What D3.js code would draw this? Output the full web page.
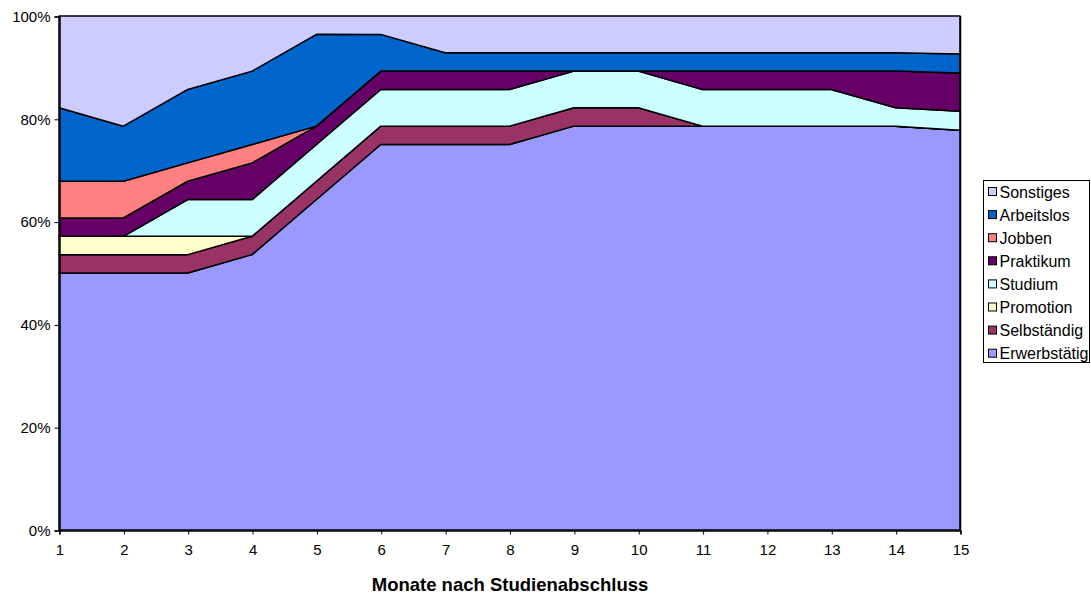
<!DOCTYPE html>
<html><head><meta charset="utf-8">
<script src="https://cdn.jsdelivr.net/npm/d3@7"></script>
<style>body{margin:0;background:#fff;} svg{display:block;} text{font-family:"Liberation Sans",Arial,sans-serif;}</style>
</head><body><svg id="c" width="1091" height="595"></svg>
<script>
const months = [1,2,3,4,5,6,7,8,9,10,11,12,13,14,15];
const seriesNames = ["Erwerbstätig","Selbständig","Promotion","Studium","Praktikum","Jobben","Arbeitslos","Sonstiges"];
const colors = ["#9999FF","#993366","#FFFFCC","#CCFFFF","#660066","#FF8080","#0066CC","#CCCCFF"];
const erwerbstaetig = [50,50,50,53.57,64.29,75,75,75,78.57,78.57,78.57,78.57,78.57,78.57,77.78];
const selbstaendig  = [3.57,3.57,3.57,3.57,3.57,3.57,3.57,3.57,3.57,3.57,0,0,0,0,0];
const promotion     = [3.57,3.57,3.57,0,0,0,0,0,0,0,0,0,0,0,0];
const studium       = [0,0,7.14,7.14,7.14,7.14,7.14,7.14,7.14,7.14,7.14,7.14,7.14,3.57,3.70];
const praktikum     = [3.57,3.57,3.57,7.14,3.57,3.57,3.57,3.57,0,0,3.57,3.57,3.57,7.14,7.41];
const jobben        = [7.14,7.14,3.57,3.57,0,0,0,0,0,0,0,0,0,0,0];
const arbeitslos    = [14.29,10.71,14.29,14.29,17.86,7.14,3.57,3.57,3.57,3.57,3.57,3.57,3.57,3.57,3.70];
const sonstiges     = [17.86,21.43,14.29,10.71,3.57,3.57,7.14,7.14,7.14,7.14,7.14,7.14,7.14,7.14,7.41];
const yTicks = [0,20,40,60,80,100];

const seriesVals = [erwerbstaetig,selbstaendig,promotion,studium,praktikum,jobben,arbeitslos,sonstiges];
const table = months.map((m,i)=>{const o={month:m}; seriesNames.forEach((s,j)=>o[s]=seriesVals[j][i]); return o;});
const stack = d3.stack().keys(seriesNames);
const layers = stack(table);

const svg = d3.select("#c");
const L=59,R=960,T=16,B=530;
const x = d3.scaleLinear().domain([1,15]).range([L,R]);
const y = d3.scaleLinear().domain([0,100]).range([B,T]);

const area = d3.area().x(d=>x(d.data.month)).y0(d=>y(d[0])).y1(d=>y(Math.min(100,d[1])));
svg.append("g").selectAll("path").data(layers).join("path")
  .attr("d",area).attr("fill",(d,i)=>colors[i]).attr("stroke","#000").attr("stroke-width",1.5).attr("stroke-linejoin","round");

// right border
svg.append("line").attr("x1",R+0.5).attr("x2",R+0.5).attr("y1",T).attr("y2",B).attr("stroke","#000").attr("stroke-width",1.5);

const yAxis = d3.axisLeft(y).tickValues(yTicks).tickFormat(d=>d+"%").tickSizeOuter(0).tickSize(5).tickPadding(4);
const gy = svg.append("g").attr("transform",`translate(${L+0.5},0.5)`).call(yAxis);
gy.selectAll("text").style("font-size","15px").attr("fill","#000");
gy.select(".domain").attr("stroke","#000").attr("stroke-width",1.5);

const xAxis = d3.axisBottom(x).tickValues(months).tickFormat(d3.format("d")).tickSizeOuter(0).tickSize(4).tickPadding(10);
const gx = svg.append("g").attr("transform",`translate(0.5,${B+0.5})`).call(xAxis);
gx.selectAll("text").style("font-size","15px").attr("fill","#000");
gx.select(".domain").attr("stroke","#000").attr("stroke-width",1.5);

svg.append("text").attr("x",510).attr("y",591).attr("text-anchor","middle")
  .style("font-size","18.5px").style("font-weight","bold").text("Monate nach Studienabschluss");

// legend
const lg = svg.append("g");
lg.append("rect").attr("x",983.5).attr("y",180.5).attr("width",106).attr("height",182).attr("fill","#fff").attr("stroke","#000");
const legendOrder = seriesNames.map((s,i)=>({s,c:colors[i]})).reverse();
legendOrder.forEach((d,i)=>{
  const yy = 192 + i*23.1;
  lg.append("rect").attr("x",988.5).attr("y",yy-4.5).attr("width",8).attr("height",8).attr("fill",d.c).attr("stroke","#000");
  lg.append("text").attr("x",999.5).attr("y",yy+5.5).style("font-size","16px").text(d.s);
});
</script></body></html>
